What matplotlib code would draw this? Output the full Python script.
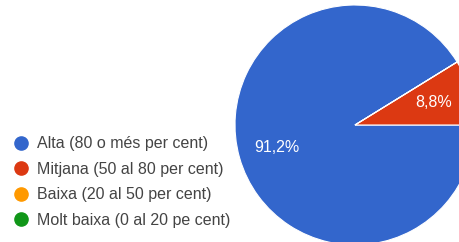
import matplotlib.pyplot as plt
from matplotlib.lines import Line2D

categories = ['Alta (80 o més per cent)', 'Mitjana (50 al 80 per cent)',
              'Baixa (20 al 50 per cent)', 'Molt baixa (0 al 20 pe cent)']
values = [91.2, 8.8, 0.0, 0.0]
colors = ['#3366cc', '#dc3912', '#ff9900', '#109618']

plt.rcParams['font.family'] = ['Liberation Sans', 'DejaVu Sans']

fig = plt.figure(figsize=(4.6, 2.42), dpi=100)
W, H = 460, 242

# pie is larger than the canvas and cut off on the right and bottom
cx, cy, r = 355, 125, 120
ax = fig.add_axes([(cx - r) / W, (H - cy - r) / H, 2 * r / W, 2 * r / H])

def pct(p):
    return ('%.1f%%' % p).replace('.', ',') if p > 0 else ''

wedges, texts, autotexts = ax.pie(values, colors=colors, startangle=360 * values[1] / 100,
                                  counterclock=True, autopct=pct, pctdistance=0.68,
                                  wedgeprops=dict(edgecolor='white', linewidth=0.8),
                                  textprops=dict(color='white', fontsize=11.5))
ax.set_xlim(-1, 1)
ax.set_ylim(-1, 1)
ax.set_aspect('equal')
ax.axis('off')

handles = [Line2D([], [], marker='o', linestyle='', markersize=9.5,
                  markerfacecolor=c, markeredgecolor=c) for c in colors]
fig.legend(handles, categories, loc='upper left', bbox_to_anchor=(5 / W, 1 - 130 / H),
           frameon=False, fontsize=11.5, handletextpad=0.35, labelspacing=0.66,
           handlelength=1.25, borderaxespad=0, labelcolor='#444444')

fig.savefig('out.png', dpi=100)
